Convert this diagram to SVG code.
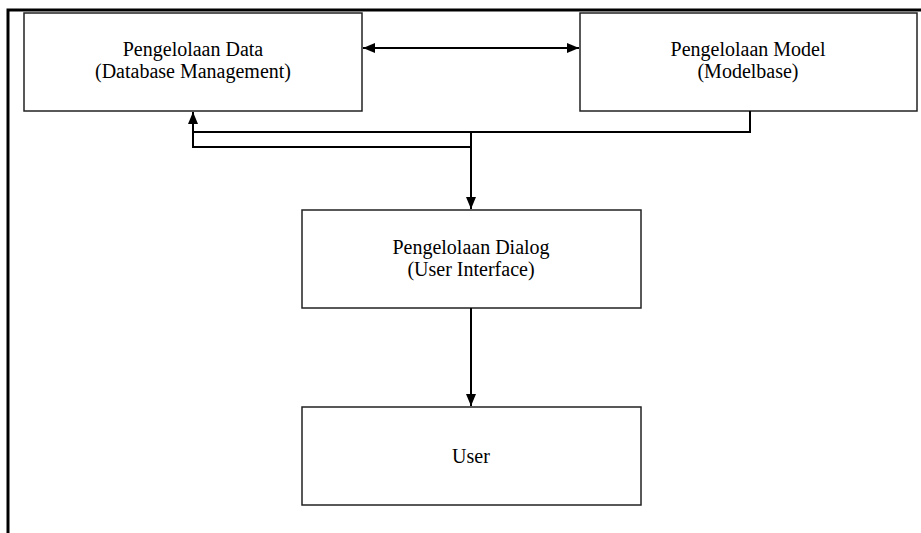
<svg xmlns="http://www.w3.org/2000/svg" width="921" height="533" viewBox="0 0 921 533">
<defs>
<marker id="ah" viewBox="0 0 12 10" refX="12" refY="5" markerWidth="12" markerHeight="10" markerUnits="userSpaceOnUse" orient="auto-start-reverse">
<path d="M0,0 L12,5 L0,10 Z" fill="#000"/>
</marker>
<style>
.box{fill:#fff;stroke:#222;stroke-width:1.5}
.lbl{font-family:"Liberation Serif","Times New Roman",serif;font-size:20px;fill:#000;text-anchor:middle}
.con{fill:none;stroke:#000;stroke-width:2}
.frame{fill:none;stroke:#000;stroke-width:3}
</style>
</defs>
<rect width="921" height="533" fill="#fff"/>
<path class="frame" d="M8,533 L8,10 L921,10"/>
<g id="node-data">
<rect class="box" x="24" y="13" width="338" height="98"/>
<text class="lbl" x="193" y="56">Pengelolaan Data</text>
<text class="lbl" x="193" y="78">(Database Management)</text>
</g>
<g id="node-model">
<rect class="box" x="580" y="13" width="337" height="98"/>
<text class="lbl" x="748" y="56">Pengelolaan Model</text>
<text class="lbl" x="748" y="78">(Modelbase)</text>
</g>
<g id="node-dialog">
<rect class="box" x="302" y="210" width="339" height="98"/>
<text class="lbl" x="471" y="254">Pengelolaan Dialog</text>
<text class="lbl" x="471" y="276">(User Interface)</text>
</g>
<g id="node-user">
<rect class="box" x="302" y="407" width="339" height="98"/>
<text class="lbl" x="471" y="463">User</text>
</g>
<g id="connectors">
<line class="con" x1="363" y1="48" x2="579" y2="48" marker-start="url(#ah)" marker-end="url(#ah)"/>
<path class="con" d="M750,111 L750,132 L193,132"/>
<path class="con" d="M471,147 L193,147 L193,112" marker-end="url(#ah)"/>
<line class="con" x1="471" y1="132" x2="471" y2="209" marker-end="url(#ah)"/>
<line class="con" x1="471" y1="308" x2="471" y2="406" marker-end="url(#ah)"/>
</g>
</svg>
